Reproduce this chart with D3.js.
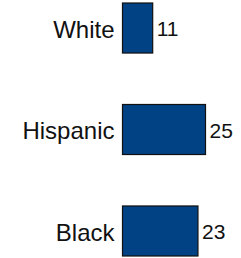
<!DOCTYPE html>
<html>
<head>
<meta charset="utf-8">
<script src="https://cdn.jsdelivr.net/npm/d3@7"></script>
<style>
  body { margin: 0; background: #fff; }
  text { font-family: "Liberation Sans", Arial, sans-serif; fill: #111; }
</style>
</head>
<body>
<svg width="241" height="258"></svg>
<script>
// data
const groups = ["White", "Hispanic", "Black"];
const values = [11, 25, 23];

const width = 241;
const height = 258;
const barLeft = 122.5;

const svg = d3.select("svg");

// bars in the picture don't start from zero, so fit the scale to them
const x = d3.scaleLinear()
    .domain([3, 25])
    .range([0, 83]);

const y = d3.scaleBand()
    .domain(groups)
    .range([3, 256])
    .paddingInner(0.507)
    .paddingOuter(0);

const rows = svg.selectAll("g.row")
    .data(groups)
    .enter().append("g")
    .attr("class", "row")
    .attr("transform", d => `translate(${barLeft},${y(d)})`);

rows.append("rect")
    .attr("x", 0)
    .attr("y", 0)
    .attr("width", (d, i) => x(values[i]))
    .attr("height", y.bandwidth())
    .style("fill", "#004283")
    .style("stroke", "#111")
    .style("stroke-width", 1.2);

rows.append("text")
    .attr("x", -8)
    .attr("y", y.bandwidth() / 2)
    .attr("dy", "0.4em")
    .attr("text-anchor", "end")
    .style("font-size", "24px")
    .text(d => d);

rows.append("text")
    .attr("x", (d, i) => x(values[i]) + 4)
    .attr("y", y.bandwidth() / 2)
    .attr("dy", "0.4em")
    .style("font-size", "21px")
    .text((d, i) => values[i]);
</script>
</body>
</html>
